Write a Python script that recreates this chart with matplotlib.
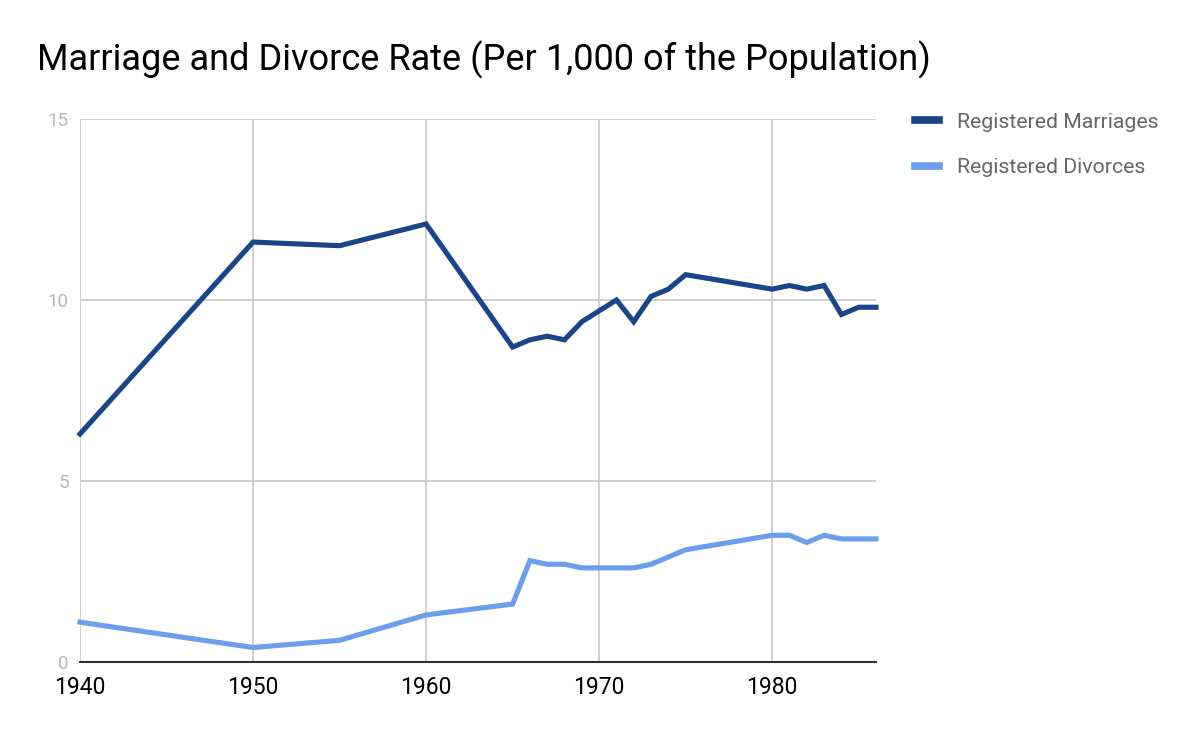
import matplotlib
matplotlib.use("Agg")
import matplotlib.pyplot as plt
from matplotlib.lines import Line2D

plt.rcParams['font.family'] = ['Roboto', 'DejaVu Sans']

years = [1940, 1950, 1955, 1960, 1965, 1966, 1967, 1968, 1969, 1970, 1971, 1972,
         1973, 1974, 1975, 1980, 1981, 1982, 1983, 1984, 1985, 1986]
marriages = [6.3, 11.6, 11.5, 12.1, 8.7, 8.9, 9.0, 8.9, 9.4, 9.7, 10.0, 9.4,
             10.1, 10.3, 10.7, 10.3, 10.4, 10.3, 10.4, 9.6, 9.8, 9.8]
divorces = [1.1, 0.4, 0.6, 1.3, 1.6, 2.8, 2.7, 2.7, 2.6, 2.6, 2.6, 2.6,
            2.7, 2.9, 3.1, 3.5, 3.5, 3.3, 3.5, 3.4, 3.4, 3.4]
series_names = ["Registered Marriages", "Registered Divorces"]
colors = ["#1c4587", "#6d9eeb"]
x_ticks = [1940, 1950, 1960, 1970, 1980]
y_ticks = [0, 5, 10, 15]
title = "Marriage and Divorce Rate (Per 1,000 of the Population)"

fig = plt.figure(figsize=(12, 7.42), dpi=100)
ax = fig.add_axes([80/1200, 1-662/742, (876-80)/1200, (662-119)/742])

ax.plot(years, marriages, color=colors[0], lw=3.7, solid_joinstyle='miter', zorder=3, clip_on=False)
ax.plot(years, divorces, color=colors[1], lw=3.7, solid_joinstyle='miter', zorder=3, clip_on=False)

ax.set_xlim(1940, 1986)
ax.set_ylim(0, 15)
ax.set_xticks(x_ticks)
ax.set_yticks(y_ticks)
ax.grid(True, color="#cccccc", lw=1.3)
ax.set_axisbelow(True)
for s in ['top', 'right', 'left']:
    ax.spines[s].set_visible(False)
ax.spines['bottom'].set_color('#333333')
ax.spines['bottom'].set_linewidth(1.5)
ax.spines['bottom'].set_zorder(4)
ax.tick_params(axis='both', length=0)
ax.tick_params(axis='x', labelsize=16.5, labelcolor='#000000', pad=10)
ax.tick_params(axis='y', labelsize=13.5, labelcolor='#b7b7b7', pad=8)

fig.text(37/1200, 1-60/742, title, fontsize=26, color='#000000', va='center', ha='left')

handles = [Line2D([0], [0], color=c, lw=5.5) for c in colors]
leg = fig.legend(handles, series_names, loc='upper left', bbox_to_anchor=(906/1200, 1-104/742),
                 frameon=False, fontsize=15.3, labelspacing=1.27, handlelength=1.15,
                 handletextpad=0.85, borderaxespad=0)
for t in leg.get_texts():
    t.set_color('#666666')

fig.savefig("out.png", dpi=100)
